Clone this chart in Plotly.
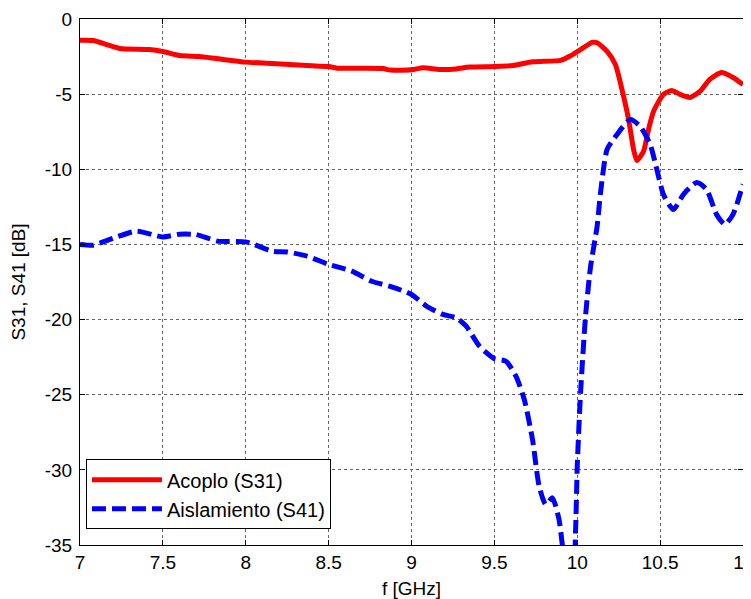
import plotly.graph_objects as go

# Acoplo (S31)
f_s31 = [7.0, 7.08, 7.16, 7.24, 7.42, 7.5, 7.6, 7.72, 7.82, 8.0, 8.16, 8.37, 8.5, 8.55, 8.7, 8.83, 8.87,
         9.0, 9.07, 9.17, 9.27, 9.35, 9.5, 9.61, 9.73, 9.9, 9.96, 10.02, 10.09, 10.12, 10.18, 10.23,
         10.27, 10.31, 10.34, 10.36, 10.4, 10.43, 10.46, 10.52, 10.57, 10.62, 10.68, 10.74, 10.8,
         10.87, 10.94, 11.0]
s31 = [-1.41, -1.43, -1.7, -1.96, -2.03, -2.16, -2.43, -2.5, -2.63, -2.87, -2.96, -3.1, -3.16, -3.27,
       -3.28, -3.3, -3.4, -3.38, -3.25, -3.36, -3.32, -3.2, -3.16, -3.1, -2.85, -2.75, -2.45, -2.03,
       -1.56, -1.58, -2.16, -3.03, -4.7, -6.7, -8.7, -9.42, -8.8, -7.35, -6.15, -5.02, -4.75, -5.02,
       -5.22, -4.82, -4.02, -3.56, -3.89, -4.36]

# Aislamiento (S41)
f_s41 = [7.0, 7.08, 7.18, 7.34, 7.5, 7.6, 7.7, 7.83, 8.0, 8.16, 8.25, 8.37, 8.5, 8.64, 8.76, 8.88,
         9.0, 9.09, 9.19, 9.27, 9.33, 9.41, 9.5, 9.57, 9.63, 9.68, 9.73, 9.77, 9.81, 9.85, 9.89,
         9.91, 9.94, 9.97, 9.99, 10.0, 10.02, 10.05, 10.08, 10.12, 10.14, 10.18, 10.24, 10.32,
         10.38, 10.44, 10.48, 10.52, 10.58, 10.64, 10.72, 10.78, 10.84, 10.89, 10.94, 11.0]
s41 = [-15.0, -15.05, -14.67, -14.12, -14.5, -14.32, -14.34, -14.78, -14.83, -15.45, -15.5, -15.78,
       -16.33, -16.78, -17.45, -17.82, -18.33, -19.1, -19.66, -19.88, -20.44, -21.77, -22.6, -22.77,
       -23.77, -25.3, -27.97, -31.08, -32.3, -31.86, -33.3, -35.0, -38.0, -38.0, -34.0, -29.75,
       -24.87, -19.77, -16.5, -13.78, -11.6, -8.68, -7.68, -6.68, -7.15, -8.35, -10.0, -11.68,
       -12.68, -11.68, -10.88, -11.34, -13.0, -13.67, -13.0, -11.0]

x_ticks = [7, 7.5, 8, 8.5, 9, 9.5, 10, 10.5, 11]
x_labels = ["7", "7.5", "8", "8.5", "9", "9.5", "10", "10.5", "11"]
y_ticks = [0, -5, -10, -15, -20, -25, -30, -35]
y_labels = ["0", "-5", "-10", "-15", "-20", "-25", "-30", "-35"]

fig = go.Figure()
fig.add_trace(go.Scatter(x=f_s31, y=s31, mode="lines", name="Acoplo (S31)",
                         line=dict(color="#ff0000", width=5, shape="spline", smoothing=0.6)))
fig.add_trace(go.Scatter(x=f_s41, y=s41, mode="lines", name="Aislamiento (S41)",
                         line=dict(color="#0000ff", width=5, dash="14px,6px", shape="spline", smoothing=0.6)))

axis_common = dict(showline=True, linecolor="black", linewidth=1, mirror="allticks",
                   ticks="inside", ticklen=5, tickcolor="black", automargin=False,
                   showgrid=True, gridcolor="#666666", griddash="dot", gridwidth=1,
                   zeroline=False, tickfont=dict(size=19, color="black"))

fig.update_layout(
    width=751, height=599,
    margin=dict(l=72, r=16, t=11, b=62),
    paper_bgcolor="white", plot_bgcolor="white",
    font=dict(family="Liberation Sans, Arial, sans-serif", size=19, color="black"),
    xaxis=dict(range=[7, 11], tickvals=x_ticks, ticktext=x_labels,
               title=dict(text="f [GHz]", font=dict(size=19), standoff=9), **axis_common),
    yaxis=dict(range=[-35, 0], tickvals=y_ticks, ticktext=y_labels, ticklabelstandoff=3,
               title=dict(text="S31, S41 [dB]", font=dict(size=19), standoff=15), **axis_common),
    legend=dict(x=0.009, y=0.03, xanchor="left", yanchor="bottom",
                bgcolor="white", bordercolor="black", borderwidth=1, itemwidth=70,
                font=dict(size=20), tracegroupgap=0),
    showlegend=True,
)

fig.write_html("out.html")
